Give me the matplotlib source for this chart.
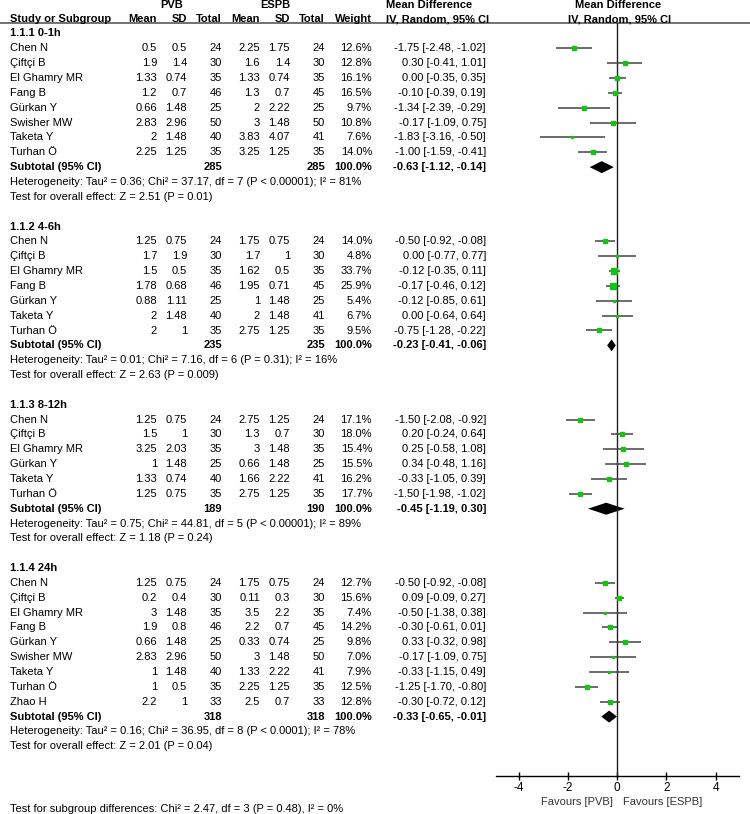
import matplotlib.pyplot as plt
import numpy as np

plt.rcParams['font.family'] = ['Liberation Sans', 'DejaVu Sans']

# ---- data ----
group_titles = ["1.1.1 0-1h", "1.1.2 4-6h", "1.1.3 8-12h", "1.1.4 24h"]

study_names = [
    ["Chen N", "Çiftçi B", "El Ghamry MR", "Fang B", "Gürkan Y", "Swisher MW", "Taketa Y", "Turhan Ö"],
    ["Chen N", "Çiftçi B", "El Ghamry MR", "Fang B", "Gürkan Y", "Taketa Y", "Turhan Ö"],
    ["Chen N", "Çiftçi B", "El Ghamry MR", "Gürkan Y", "Taketa Y", "Turhan Ö"],
    ["Chen N", "Çiftçi B", "El Ghamry MR", "Fang B", "Gürkan Y", "Swisher MW", "Taketa Y", "Turhan Ö", "Zhao H"],
]
pvb_mean = [
    [0.5, 1.9, 1.33, 1.2, 0.66, 2.83, 2, 2.25],
    [1.25, 1.7, 1.5, 1.78, 0.88, 2, 2],
    [1.25, 1.5, 3.25, 1, 1.33, 1.25],
    [1.25, 0.2, 3, 1.9, 0.66, 2.83, 1, 1, 2.2],
]
pvb_sd = [
    [0.5, 1.4, 0.74, 0.7, 1.48, 2.96, 1.48, 1.25],
    [0.75, 1.9, 0.5, 0.68, 1.11, 1.48, 1],
    [0.75, 1, 2.03, 1.48, 0.74, 0.75],
    [0.75, 0.4, 1.48, 0.8, 1.48, 2.96, 1.48, 0.5, 1],
]
pvb_n = [
    [24, 30, 35, 46, 25, 50, 40, 35],
    [24, 30, 35, 46, 25, 40, 35],
    [24, 30, 35, 25, 40, 35],
    [24, 30, 35, 46, 25, 50, 40, 35, 33],
]
espb_mean = [
    [2.25, 1.6, 1.33, 1.3, 2, 3, 3.83, 3.25],
    [1.75, 1.7, 1.62, 1.95, 1, 2, 2.75],
    [2.75, 1.3, 3, 0.66, 1.66, 2.75],
    [1.75, 0.11, 3.5, 2.2, 0.33, 3, 1.33, 2.25, 2.5],
]
espb_sd = [
    [1.75, 1.4, 0.74, 0.7, 2.22, 1.48, 4.07, 1.25],
    [0.75, 1, 0.5, 0.71, 1.48, 1.48, 1.25],
    [1.25, 0.7, 1.48, 1.48, 2.22, 1.25],
    [0.75, 0.3, 2.2, 0.7, 0.74, 1.48, 2.22, 1.25, 0.7],
]
espb_n = [
    [24, 30, 35, 45, 25, 50, 41, 35],
    [24, 30, 35, 45, 25, 41, 35],
    [24, 30, 35, 25, 41, 35],
    [24, 30, 35, 45, 25, 50, 41, 35, 33],
]
weights = [
    [12.6, 12.8, 16.1, 16.5, 9.7, 10.8, 7.6, 14.0],
    [14.0, 4.8, 33.7, 25.9, 5.4, 6.7, 9.5],
    [17.1, 18.0, 15.4, 15.5, 16.2, 17.7],
    [12.7, 15.6, 7.4, 14.2, 9.8, 7.0, 7.9, 12.5, 12.8],
]
md = [
    [-1.75, 0.30, 0.00, -0.10, -1.34, -0.17, -1.83, -1.00],
    [-0.50, 0.00, -0.12, -0.17, -0.12, 0.00, -0.75],
    [-1.50, 0.20, 0.25, 0.34, -0.33, -1.50],
    [-0.50, 0.09, -0.50, -0.30, 0.33, -0.17, -0.33, -1.25, -0.30],
]
md_lo = [
    [-2.48, -0.41, -0.35, -0.39, -2.39, -1.09, -3.16, -1.59],
    [-0.92, -0.77, -0.35, -0.46, -0.85, -0.64, -1.28],
    [-2.08, -0.24, -0.58, -0.48, -1.05, -1.98],
    [-0.92, -0.09, -1.38, -0.61, -0.32, -1.09, -1.15, -1.70, -0.72],
]
md_hi = [
    [-1.02, 1.01, 0.35, 0.19, -0.29, 0.75, -0.50, -0.41],
    [-0.08, 0.77, 0.11, 0.12, 0.61, 0.64, -0.22],
    [-0.92, 0.64, 1.08, 1.16, 0.39, -1.02],
    [-0.08, 0.27, 0.38, 0.01, 0.98, 0.75, 0.49, -0.80, 0.12],
]
sub_pvb_n = [285, 235, 189, 318]
sub_espb_n = [285, 235, 190, 318]
sub_md = [-0.63, -0.23, -0.45, -0.33]
sub_lo = [-1.12, -0.41, -1.19, -0.65]
sub_hi = [-0.14, -0.06, 0.30, -0.01]
heterogeneity = [
    "Heterogeneity: Tau² = 0.36; Chi² = 37.17, df = 7 (P < 0.00001); I² = 81%",
    "Heterogeneity: Tau² = 0.01; Chi² = 7.16, df = 6 (P = 0.31); I² = 16%",
    "Heterogeneity: Tau² = 0.75; Chi² = 44.81, df = 5 (P < 0.00001); I² = 89%",
    "Heterogeneity: Tau² = 0.16; Chi² = 36.95, df = 8 (P < 0.0001); I² = 78%",
]
overall = [
    "Test for overall effect: Z = 2.51 (P = 0.01)",
    "Test for overall effect: Z = 2.63 (P = 0.009)",
    "Test for overall effect: Z = 1.18 (P = 0.24)",
    "Test for overall effect: Z = 2.01 (P = 0.04)",
]
subgroup_test = "Test for subgroup differences: Chi² = 2.47, df = 3 (P = 0.48), I² = 0%"
x_ticks = [-4, -2, 0, 2, 4]

# ---- layout (pixels) ----
W, H = 750, 814
row0, dy = 33.5, 14.85
fs = 8.0
col_x = dict(pm=157, ps=187, pn=222, em=260, es=290, en=325, w=372, ci=486)
green = '#11c611'

fig = plt.figure(figsize=(W / 100, H / 100), dpi=100)
ax = fig.add_axes([0, 0, 1, 1])
ax.set_xlim(0, W)
ax.set_ylim(H, 0)
ax.axis('off')

# forest panel, y in the same pixel units as the table
ax_top, ax_bot = 23, 776
fx0, fx1 = 496, 739
fa = fig.add_axes([fx0 / W, 1 - ax_bot / H, (fx1 - fx0) / W, (ax_bot - ax_top) / H])
fa.set_xlim(-4.93, 4.95)
fa.set_ylim(ax_bot, ax_top)
for s in ['top', 'right', 'left']:
    fa.spines[s].set_visible(False)
fa.spines['bottom'].set_linewidth(1.0)
fa.set_yticks([])
fa.set_xticks(x_ticks)
fa.set_xticklabels([str(t) for t in x_ticks], fontsize=8.5)
fa.tick_params(axis='x', direction='inout', length=6, width=1, pad=1)
fa.axvline(0, color='#222', lw=1)
fa.patch.set_alpha(0)

# header
bold = dict(fontsize=fs, fontweight='bold', va='center')
ax.text(172, 5, "PVB", ha='center', **bold)
ax.text(275, 5, "ESPB", ha='center', **bold)
ax.text(386, 5, "Mean Difference", ha='left', **bold)
ax.text(618, 5, "Mean Difference", ha='center', **bold)
ax.text(10, 19, "Study or Subgroup", ha='left', **bold)
for key, lab in [('pm', 'Mean'), ('ps', 'SD'), ('pn', 'Total'), ('em', 'Mean'),
                 ('es', 'SD'), ('en', 'Total'), ('w', 'Weight')]:
    ax.text(col_x[key], 19, lab, ha='right', **bold)
ax.text(386, 19, "IV, Random, 95% CI", ha='left', **bold)
ax.text(620, 19, "IV, Random, 95% CI", ha='center', **bold)
ax.axhline(ax_top, color='#666', lw=1.3)

norm = dict(fontsize=fs, va='center')
row = 0
for g in range(len(group_titles)):
    y = row0 + row * dy
    ax.text(10, y, group_titles[g], ha='left', **bold)
    row += 1
    for i, name in enumerate(study_names[g]):
        y = row0 + row * dy
        ax.text(10, y, name, ha='left', **norm)
        vals = [('pm', f"{pvb_mean[g][i]:g}"), ('ps', f"{pvb_sd[g][i]:g}"),
                ('pn', f"{pvb_n[g][i]}"), ('em', f"{espb_mean[g][i]:g}"),
                ('es', f"{espb_sd[g][i]:g}"), ('en', f"{espb_n[g][i]}"),
                ('w', f"{weights[g][i]:.1f}%"),
                ('ci', f"{md[g][i]:.2f} [{md_lo[g][i]:.2f}, {md_hi[g][i]:.2f}]")]
        for key, txt in vals:
            ax.text(col_x[key], y, txt, ha='right', **norm)
        fa.plot([md_lo[g][i], md_hi[g][i]], [y, y], color='#444', lw=1.1,
                solid_capstyle='butt')
        fa.plot(md[g][i], y, 's', color=green, mec=green,
                ms=0.75 * np.sqrt(weights[g][i]))
        row += 1
    y = row0 + row * dy
    ax.text(10, y, "Subtotal (95% CI)", ha='left', **bold)
    ax.text(col_x['pn'], y, f"{sub_pvb_n[g]}", ha='right', **bold)
    ax.text(col_x['en'], y, f"{sub_espb_n[g]}", ha='right', **bold)
    ax.text(col_x['w'], y, "100.0%", ha='right', **bold)
    ax.text(col_x['ci'], y, f"{sub_md[g]:.2f} [{sub_lo[g]:.2f}, {sub_hi[g]:.2f}]",
            ha='right', **bold)
    h = 6
    fa.fill([sub_lo[g], sub_md[g], sub_hi[g], sub_md[g]], [y, y - h, y, y + h],
            color='black', lw=0)
    row += 1
    ax.text(10, row0 + row * dy, heterogeneity[g], ha='left', **norm)
    row += 1
    ax.text(10, row0 + row * dy, overall[g], ha='left', **norm)
    row += 2

ax.text(10, 809, subgroup_test, ha='left', **norm)
ax.text(613, 802, "Favours [PVB]", ha='right', fontsize=8, va='center', color='#333')
ax.text(623, 802, "Favours [ESPB]", ha='left', fontsize=8, va='center', color='#333')

fig.savefig("out.png", dpi=100)
